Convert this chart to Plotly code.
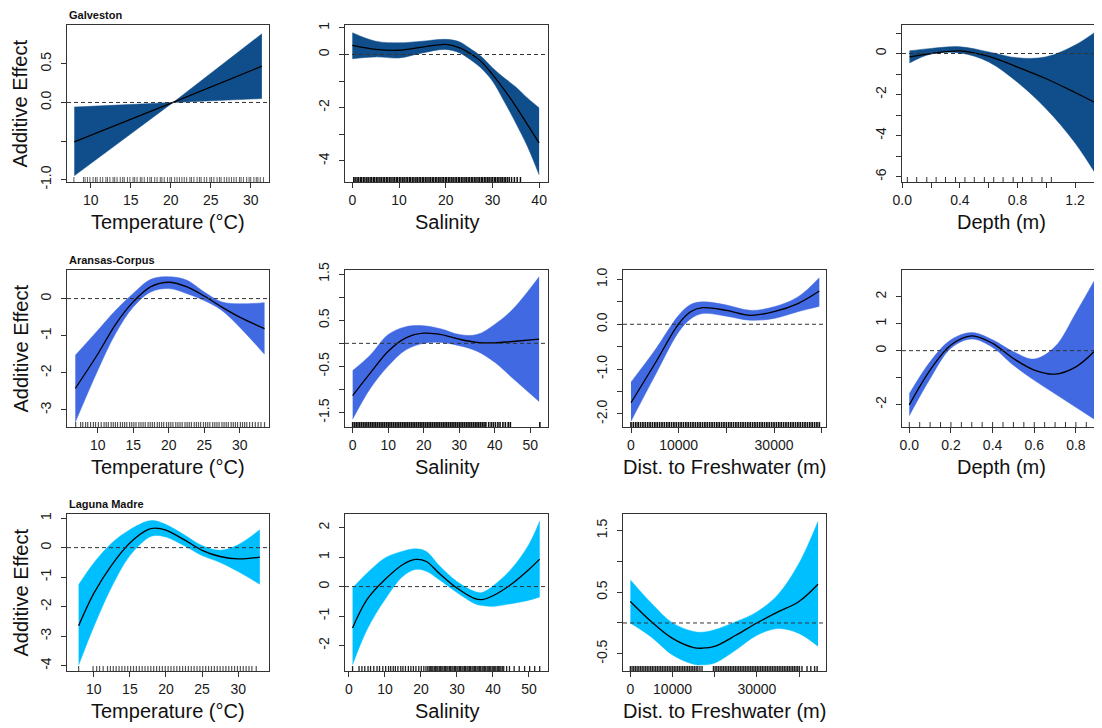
import plotly.graph_objects as go

W, H = 1102, 728
PAGE_OFF = 8  # browser page margin around the figure
FONT = "Arial, 'Liberation Sans', sans-serif"

# ---------------- colours per estuary ----------------
COL_GAL = "#104E8B"
COL_ARA = "#4169E1"
COL_LAG = "#00BFFF"

# ---------------- Galveston ----------------
gal_temp_x = [7.95, 20.3, 31.4]
gal_temp_fit = [-0.51, 0.0, 0.47]
gal_temp_up = [-0.06, 0.0, 0.89]
gal_temp_lo = [-0.95, 0.0, 0.05]
gal_temp_rug = [float(v) for v in (
    "7.9 9.1 9.3 9.6 9.9 10.3 10.6 10.8 11.2 11.5 11.9 12.1 12.4 12.8 13.0 13.3 13.7 14.0 14.2 14.6 "
    "14.9 15.3 15.5 15.8 16.2 16.4 16.7 17.1 17.4 17.6 18.0 18.3 18.7 18.9 19.2 19.6 19.9 20.1 20.5 "
    "20.8 21.1 21.4 21.7 22.0 22.4 22.6 22.9 23.3 23.6 23.8 24.2 24.5 24.9 25.1 25.4 25.8 26.1 26.3 "
    "26.7 27.0 27.3 27.6 27.9 28.2 28.6 28.8 29.1 29.5 29.8 30.0 30.4 30.7 30.9 31.2 31.6").split()]

gal_sal_x = [0, 5, 10, 15, 20, 23, 25, 27.5, 30, 32.5, 35, 37.5, 40]
gal_sal_fit = [0.34, 0.19, 0.16, 0.28, 0.38, 0.25, 0.06, -0.25, -0.75, -1.32, -1.95, -2.64, -3.33]
gal_sal_up = [0.82, 0.50, 0.44, 0.50, 0.57, 0.47, 0.25, -0.06, -0.50, -0.88, -1.22, -1.64, -2.01]
gal_sal_lo = [-0.16, -0.09, -0.13, 0.06, 0.19, 0.06, -0.16, -0.50, -1.00, -1.76, -2.58, -3.46, -4.53]
gal_sal_rug = [float(v) for v in (
    "0.3 0.6 1.0 1.3 1.7 2.0 2.4 2.7 3.1 3.4 3.8 4.1 4.5 4.8 5.2 5.5 5.9 6.2 6.6 6.9 7.3 7.6 8.0 8.3 "
    "8.7 9.0 9.4 9.7 10.1 10.4 10.8 11.1 11.5 11.8 12.2 12.5 12.9 13.2 13.6 13.9 14.3 14.6 15.0 15.3 "
    "15.7 16.0 16.4 16.7 17.1 17.4 17.8 18.1 18.5 18.8 19.2 19.5 19.9 20.2 20.6 20.9 21.3 21.6 22.0 "
    "22.3 22.7 23.0 23.4 23.7 24.1 24.4 24.8 25.1 25.5 25.8 26.2 26.5 26.9 27.2 27.6 27.9 28.3 28.6 "
    "29.0 29.3 29.7 30.0 30.4 30.7 31.1 31.4 31.8 32.1 32.5 32.8 33.2 33.6 34.1 34.7 35.3 36.0").split()]

gal_dep_x = [0.05, 0.2, 0.4, 0.6, 0.8, 1.0, 1.2, 1.35]
gal_dep_fit = [-0.16, 0.0, 0.13, -0.14, -0.66, -1.23, -1.90, -2.43]
gal_dep_up = [0.13, 0.25, 0.33, 0.08, -0.21, -0.16, 0.41, 1.10]
gal_dep_lo = [-0.46, -0.02, 0.03, -0.41, -1.40, -2.70, -4.36, -5.95]
gal_dep_rug = [0.035, 0.10, 0.17, 0.235, 0.30, 0.37, 0.435, 0.50, 0.57, 0.635,
               0.70, 0.77, 0.835, 0.90, 0.97, 1.035]

# ---------------- Aransas-Corpus ----------------
ara_temp_x = [6.85, 10, 12.5, 15, 17.5, 20, 22.5, 25, 27.5, 30, 33.5]
ara_temp_fit = [-2.42, -1.50, -0.70, -0.09, 0.32, 0.44, 0.32, 0.07, -0.23, -0.50, -0.81]
ara_temp_up = [-1.53, -0.86, -0.32, 0.14, 0.52, 0.59, 0.50, 0.18, -0.09, -0.14, -0.11]
ara_temp_lo = [-3.33, -1.94, -0.95, -0.23, 0.18, 0.27, 0.14, -0.05, -0.32, -0.77, -1.50]
ara_temp_rug = [float(v) for v in (
    "6.9 7.6 7.9 8.3 8.6 9.0 9.4 9.7 10.1 10.5 10.9 11.2 11.5 11.9 12.2 12.5 12.8 13.2 13.5 13.8 "
    "14.1 14.5 14.8 15.1 15.4 15.8 16.1 16.4 16.7 17.1 17.4 17.7 18.0 18.4 18.7 19.0 19.3 19.7 20.0 "
    "20.3 20.6 21.0 21.3 21.6 21.9 22.3 22.6 22.9 23.2 23.6 23.9 24.2 24.5 24.9 25.2 25.5 25.8 26.2 "
    "26.5 26.8 27.1 27.5 27.8 28.1 28.4 28.8 29.1 29.4 29.7 30.1 30.4 30.7 31.0 31.4 31.8 32.2 32.6 "
    "33.0 33.5").split()]

ara_sal_x = [0, 5, 10, 15, 20, 25, 30, 35, 40, 45, 52.5]
ara_sal_fit = [-1.13, -0.64, -0.17, 0.12, 0.22, 0.19, 0.09, 0.02, 0.01, 0.04, 0.09]
ara_sal_up = [-0.59, -0.25, 0.19, 0.36, 0.38, 0.31, 0.19, 0.19, 0.41, 0.73, 1.44]
ara_sal_lo = [-1.64, -0.97, -0.49, -0.14, 0.00, 0.02, -0.05, -0.17, -0.41, -0.75, -1.26]
ara_sal_rug = [float(v) for v in (
    "0.0 0.5 1.0 1.5 2.0 2.5 3.0 3.5 4.0 4.5 5.0 5.5 6.0 6.5 7.0 7.5 8.0 8.5 9.0 9.5 10.0 10.5 11.0 "
    "11.5 12.0 12.5 13.0 13.5 14.0 14.5 15.0 15.5 16.0 16.5 17.0 17.5 18.0 18.5 19.0 19.5 20.0 20.5 "
    "21.0 21.5 22.0 22.5 23.0 23.5 24.0 24.5 25.0 25.5 26.0 26.5 27.0 27.5 28.0 28.5 29.0 29.5 30.0 "
    "30.5 31.0 31.5 32.0 32.5 33.0 33.5 34.0 34.5 35.0 35.5 36.0 36.5 37.0 37.5 38.3 39.0 39.6 40.2 "
    "40.9 41.5 42.3 43.0 43.8 44.4 52.7").split()]

ara_dist_x = [0, 5000, 10000, 12500, 15000, 20000, 25000, 30000, 35000, 39500]
ara_dist_fit = [-1.75, -0.88, 0.01, 0.28, 0.37, 0.31, 0.20, 0.28, 0.46, 0.74]
ara_dist_up = [-1.29, -0.58, 0.20, 0.44, 0.50, 0.43, 0.31, 0.39, 0.61, 1.04]
ara_dist_lo = [-2.16, -1.15, -0.17, 0.12, 0.24, 0.18, 0.09, 0.13, 0.28, 0.40]
ara_dist_rug = [float(v) for v in (
    "0 500 1000 1500 2000 2500 3000 3500 4000 4500 5000 5500 6000 6500 7000 7500 8000 8500 9000 9500 "
    "10000 10500 11000 11500 12000 12500 13000 13500 14000 14500 15000 15500 16000 16500 17000 17500 "
    "18000 18500 19000 19500 20000 20500 21000 21500 22000 22500 23000 23500 24000 24500 25000 25500 "
    "26000 26500 27000 27500 28000 28500 29000 29500 30000 30500 31000 31500 32000 32500 33000 33500 "
    "34000 34500 35000 35500 36000 36500 37000 37500 38000 38500 39000 39500").split()]

ara_dep_x = [0.0, 0.1, 0.2, 0.3, 0.4, 0.5, 0.6, 0.7, 0.8, 0.9]
ara_dep_fit = [-2.01, -0.72, 0.21, 0.55, 0.27, -0.29, -0.72, -0.87, -0.60, 0.06]
ara_dep_up = [-1.60, -0.41, 0.40, 0.67, 0.40, -0.04, -0.31, 0.15, 1.40, 2.75]
ara_dep_lo = [-2.41, -1.04, 0.09, 0.43, 0.12, -0.54, -1.10, -1.60, -2.10, -2.60]
ara_dep_rug = [0.0, 0.05, 0.1, 0.15, 0.2, 0.25, 0.3, 0.35, 0.4, 0.45, 0.5, 0.55,
               0.6, 0.65, 0.7, 0.75, 0.8, 0.85, 0.9]

# ---------------- Laguna Madre ----------------
lag_temp_x = [7.9, 10, 12.5, 15, 17.5, 18.5, 20, 22.5, 25, 27.5, 30, 33]
lag_temp_fit = [-2.65, -1.55, -0.58, 0.16, 0.61, 0.66, 0.59, 0.27, -0.09, -0.30, -0.38, -0.32]
lag_temp_up = [-1.26, -0.52, 0.16, 0.61, 0.90, 0.91, 0.78, 0.44, 0.07, -0.09, 0.10, 0.61]
lag_temp_lo = [-3.98, -2.68, -1.32, -0.27, 0.33, 0.41, 0.36, 0.07, -0.27, -0.50, -0.81, -1.24]
lag_temp_rug = [float(v) for v in (
    "7.9 9.9 10.4 10.8 11.3 11.9 12.3 12.7 13.1 13.5 13.9 14.3 14.7 15.1 15.5 15.9 16.3 16.7 17.1 "
    "17.5 17.9 18.3 18.7 19.1 19.5 19.9 20.3 20.7 21.1 21.5 21.9 22.3 22.7 23.1 23.5 23.9 24.3 24.7 "
    "25.1 25.5 25.9 26.3 26.7 27.1 27.5 27.9 28.3 28.7 29.1 29.5 29.9 30.3 30.7 31.1 31.5 31.9 32.5").split()]

lag_sal_x = [1, 5, 10, 15, 18.5, 21.5, 25, 30, 35, 37, 40, 45, 50, 53]
lag_sal_fit = [-1.40, -0.44, 0.24, 0.75, 0.92, 0.85, 0.46, -0.05, -0.41, -0.44, -0.31, 0.07, 0.58, 0.93]
lag_sal_up = [-0.05, 0.45, 0.97, 1.20, 1.28, 1.19, 0.72, 0.17, -0.17, -0.20, 0.02, 0.58, 1.43, 2.22]
lag_sal_lo = [-2.65, -1.46, -0.44, 0.35, 0.58, 0.52, 0.24, -0.20, -0.58, -0.64, -0.67, -0.58, -0.46, -0.35]
lag_sal_rug = [float(v) for v in (
    "1.0 2.8 3.6 4.4 5.3 6.0 6.9 7.8 8.5 9.4 10.2 11.0 11.6 12.3 12.9 13.6 14.4 15.0 15.7 16.5 17.2 "
    "17.9 18.6 19.4 20.1 20.8 21.4 21.9 22.3 22.6 23.0 23.3 23.7 24.0 24.4 24.7 25.1 25.4 25.8 26.1 "
    "26.5 26.8 27.2 27.5 27.9 28.2 28.6 28.9 29.3 29.6 30.0 30.3 30.7 31.0 31.4 31.7 32.1 32.4 32.8 "
    "33.1 33.5 33.8 34.2 34.5 34.9 35.2 35.6 35.9 36.3 36.6 37.0 37.3 37.7 38.0 38.4 38.7 39.1 39.4 "
    "39.8 40.1 40.5 40.8 41.2 41.5 41.9 42.2 42.6 43.0 43.8 44.6 45.9 47.3 48.8 50.2 51.6 53.0").split()]

lag_dist_x = [0, 5000, 10000, 15000, 17000, 20000, 25000, 30000, 35000, 40000, 44500]
lag_dist_fit = [0.35, 0.02, -0.25, -0.40, -0.41, -0.38, -0.20, 0.00, 0.18, 0.35, 0.63]
lag_dist_up = [0.70, 0.32, 0.00, -0.14, -0.15, -0.11, 0.02, 0.18, 0.46, 0.97, 1.65]
lag_dist_lo = [0.00, -0.23, -0.52, -0.67, -0.68, -0.65, -0.44, -0.20, -0.09, -0.17, -0.38]
lag_dist_rug = [float(v) for v in (
    "0 400 800 1200 1600 2000 2400 2800 3200 3600 4000 4400 4800 5200 5600 6000 6400 6800 7200 7600 "
    "8000 8400 8800 9200 9600 10000 10400 10800 11200 11600 12000 12400 12800 13200 13600 14000 14400 "
    "14800 15200 15600 16000 16500 17000 19700 20100 20500 20900 21300 21700 22100 22500 22900 23300 "
    "23700 24100 24500 24900 25300 25700 26100 26500 26900 27300 27700 28100 28500 28900 29300 29700 "
    "30100 30500 30900 31300 31700 32100 32500 32900 33300 33700 34100 34500 34900 35300 35700 36100 "
    "36500 36900 37300 37700 38100 38500 38900 39300 39700 40100 40700 41900 42800 43700 44300").split()]

# ---------------- axis labels ----------------
XT_TEMP = "Temperature (°C)"
XT_SAL = "Salinity"
XT_DIST = "Dist. to Freshwater (m)"
XT_DEP = "Depth (m)"
YT = "Additive Effect"

# ---------------- layout (page pixel boxes) ----------------
COLS = [(67, 269), (345, 548), (623, 826), (902, 1103.6)]
ROWS = [(25, 182), (270, 427), (514, 671)]


def px(xp):
    return (xp - PAGE_OFF) / W


def py(yp):
    return 1 - (yp - PAGE_OFF) / H


panels = [
    dict(r=0, c=0, x=gal_temp_x, f=gal_temp_fit, u=gal_temp_up, l=gal_temp_lo, rug=gal_temp_rug, col=COL_GAL,
         xr=[7.04, 32.29], yr=[-1.031, 1.004], xt=[10, 15, 20, 25, 30], xtt=["10", "15", "20", "25", "30"],
         yt=[-1, -0.5, 0, 0.5], ytt=["-1.0", "", "0.0", "0.5"], title=XT_TEMP, shape="linear",
         rc="#666", rw=1.1),
    dict(r=0, c=1, x=gal_sal_x, f=gal_sal_fit, u=gal_sal_up, l=gal_sal_lo, rug=gal_sal_rug, col=COL_GAL,
         xr=[-1.57, 41.9], yr=[-4.8, 1.11], xt=[0, 10, 20, 30, 40], xtt=["0", "10", "20", "30", "40"],
         yt=[-4, -3, -2, -1, 0, 1], ytt=["-4", "", "-2", "", "0", "1"], title=XT_SAL, shape="spline",
         rc="#111", rw=1.5),
    dict(r=0, c=3, x=gal_dep_x, f=gal_dep_fit, u=gal_dep_up, l=gal_dep_lo, rug=gal_dep_rug, col=COL_GAL,
         xr=[-0.002, 1.398], yr=[-6.26, 1.39], xt=[0, 0.2, 0.4, 0.6, 0.8, 1.0, 1.2],
         xtt=["0.0", "", "0.4", "", "0.8", "", "1.2"],
         yt=[-6, -5, -4, -3, -2, -1, 0, 1], ytt=["-6", "", "-4", "", "-2", "", "0", ""], title=XT_DEP,
         shape="spline", rc="#333", rw=1.0),
    dict(r=1, c=0, x=ara_temp_x, f=ara_temp_fit, u=ara_temp_up, l=ara_temp_lo, rug=ara_temp_rug, col=COL_ARA,
         xr=[5.68, 34.13], yr=[-3.46, 0.77], xt=[10, 15, 20, 25, 30], xtt=["10", "15", "20", "25", "30"],
         yt=[-3, -2, -1, 0], ytt=["-3", "-2", "-1", "0"], title=XT_TEMP, shape="spline",
         rc="#555", rw=1.2),
    dict(r=1, c=1, x=ara_sal_x, f=ara_sal_fit, u=ara_sal_up, l=ara_sal_lo, rug=ara_sal_rug, col=COL_ARA,
         xr=[-2.16, 55.0], yr=[-1.81, 1.587], xt=[0, 10, 20, 30, 40, 50], xtt=["0", "10", "20", "30", "40", "50"],
         yt=[-1.5, -1, -0.5, 0, 0.5, 1, 1.5], ytt=["-1.5", "", "-0.5", "", "0.5", "", "1.5"], title=XT_SAL,
         shape="spline", rc="#111", rw=1.6),
    dict(r=1, c=2, x=ara_dist_x, f=ara_dist_fit, u=ara_dist_up, l=ara_dist_lo, rug=ara_dist_rug, col=COL_ARA,
         xr=[-1680, 40900], yr=[-2.29, 1.21], xt=[0, 10000, 20000, 30000, 40000],
         xtt=["0", "10000", "", "30000", ""],
         yt=[-2, -1.5, -1, -0.5, 0, 0.5, 1], ytt=["-2.0", "", "-1.0", "", "0.0", "", "1.0"], title=XT_DIST,
         shape="spline", rc="#111", rw=1.7),
    dict(r=1, c=3, x=ara_dep_x, f=ara_dep_fit, u=ara_dep_up, l=ara_dep_lo, rug=ara_dep_rug, col=COL_ARA,
         xr=[-0.035, 0.933], yr=[-2.83, 2.99], xt=[0, 0.2, 0.4, 0.6, 0.8], xtt=["0.0", "0.2", "0.4", "0.6", "0.8"],
         yt=[-2, -1, 0, 1, 2], ytt=["-2", "", "0", "1", "2"], title=XT_DEP, shape="spline",
         rc="#333", rw=1.0),
    dict(r=2, c=0, x=lag_temp_x, f=lag_temp_fit, u=lag_temp_up, l=lag_temp_lo, rug=lag_temp_rug, col=COL_LAG,
         xr=[6.29, 34.27], yr=[-4.18, 1.14], xt=[10, 15, 20, 25, 30], xtt=["10", "15", "20", "25", "30"],
         yt=[-4, -3, -2, -1, 0, 1], ytt=["-4", "-3", "-2", "-1", "0", "1"], title=XT_TEMP, shape="spline",
         rc="#555", rw=1.2),
    dict(r=2, c=1, x=lag_sal_x, f=lag_sal_fit, u=lag_sal_up, l=lag_sal_lo, rug=lag_sal_rug, col=COL_LAG,
         xr=[-1.1, 55.3], yr=[-2.86, 2.46], xt=[0, 10, 20, 30, 40, 50], xtt=["0", "10", "20", "30", "40", "50"],
         yt=[-2, -1, 0, 1, 2], ytt=["-2", "-1", "0", "1", "2"], title=XT_SAL, shape="spline",
         rc="#222", rw=1.3),
    dict(r=2, c=2, x=lag_dist_x, f=lag_dist_fit, u=lag_dist_up, l=lag_dist_lo, rug=lag_dist_rug, col=COL_LAG,
         xr=[-1750, 46400], yr=[-0.78, 1.77], xt=[0, 10000, 20000, 30000, 40000],
         xtt=["0", "10000", "", "30000", ""],
         yt=[-0.5, 0, 0.5, 1, 1.5], ytt=["-0.5", "", "0.5", "", "1.5"], title=XT_DIST, shape="spline",
         rc="#222", rw=1.4),
]

TITLES = [("Galveston", 0), ("Aransas-Corpus", 1), ("Laguna Madre", 2)]

fig = go.Figure()
layout = dict(width=W, height=H, autosize=False,
              margin=dict(l=0, r=0, t=0, b=0, pad=0, autoexpand=False),
              paper_bgcolor="white", plot_bgcolor="white", showlegend=False,
              font=dict(family=FONT, color="#111"))
annotations = []
shapes = []

for i, p in enumerate(panels):
    k = i + 1
    xa = "x" if k == 1 else f"x{k}"
    ya = "y" if k == 1 else f"y{k}"
    x0, x1 = COLS[p["c"]]
    y0, y1 = ROWS[p["r"]]
    xdom = [px(x0), min(px(x1), 1.0)]
    ydom = [py(y1), py(y0)]
    common = dict(showline=True, linecolor="#333", linewidth=1, mirror=True, ticks="outside",
                  ticklen=5, tickwidth=1, tickcolor="#333", showgrid=False, zeroline=False,
                  automargin=False,
                  tickfont=dict(family=FONT, size=14, color="#1a1a1a"), fixedrange=True)
    layout[f"xaxis{'' if k == 1 else k}"] = dict(common, domain=xdom, range=p["xr"], anchor=ya,
                                                  tickmode="array", tickvals=p["xt"], ticktext=p["xtt"],
                                                  ticklabelstandoff=0)
    layout[f"yaxis{'' if k == 1 else k}"] = dict(common, domain=ydom, range=p["yr"], anchor=xa,
                                                  tickmode="array", tickvals=p["yt"], ticktext=p["ytt"],
                                                  tickangle=-90, ticklabelstandoff=4)
    # confidence band: lower edge, then upper edge filled down to it
    fig.add_trace(go.Scatter(x=p["x"], y=p["l"], xaxis=xa, yaxis=ya, mode="lines",
                             line=dict(color=p["col"], width=0.5, shape=p["shape"]), hoverinfo="skip"))
    fig.add_trace(go.Scatter(x=p["x"], y=p["u"], xaxis=xa, yaxis=ya, mode="lines", fill="tonexty",
                             fillcolor=p["col"], line=dict(color=p["col"], width=0.5, shape=p["shape"]),
                             hoverinfo="skip"))
    # fitted smooth
    fig.add_trace(go.Scatter(x=p["x"], y=p["f"], xaxis=xa, yaxis=ya, mode="lines",
                             line=dict(color="black", width=1.3, shape=p["shape"]), hoverinfo="skip"))
    # rug
    span = p["yr"][1] - p["yr"][0]
    h = span * 5.0 / (y1 - y0)
    rx, ry = [], []
    for v in p["rug"]:
        rx += [v, v, None]
        ry += [p["yr"][0], p["yr"][0] + h, None]
    fig.add_trace(go.Scatter(x=rx, y=ry, xaxis=xa, yaxis=ya, mode="lines",
                             line=dict(color=p["rc"], width=p["rw"]), hoverinfo="skip"))
    # dashed zero line
    shapes.append(dict(type="line", xref=f"{xa} domain", yref=ya, x0=0, x1=1, y0=0, y1=0,
                       line=dict(color="#333", width=1, dash="4px,3px"), layer="above"))
    # x-axis title
    annotations.append(dict(text=p["title"], xref="paper", yref="paper", x=px((x0 + min(x1, 1101)) / 2),
                            y=py(y1 + 40), xanchor="center", yanchor="middle", showarrow=False,
                            font=dict(family=FONT, size=20, color="#111")))
    if p["c"] == 0:
        annotations.append(dict(text=YT, xref="paper", yref="paper", x=px(20),
                                y=py((y0 + y1) / 2), xanchor="center", yanchor="middle",
                                textangle=-90, showarrow=False,
                                font=dict(family=FONT, size=20, color="#111")))

for name, r in TITLES:
    y0, _ = ROWS[r]
    annotations.append(dict(text=f"<b>{name}</b>", xref="paper", yref="paper", x=px(67),
                            y=py(y0 - 10), xanchor="left", yanchor="middle", showarrow=False,
                            font=dict(family=FONT, size=11, color="#111")))

layout["annotations"] = annotations
layout["shapes"] = shapes
fig.update_layout(**layout)
fig.write_html("out.html")
